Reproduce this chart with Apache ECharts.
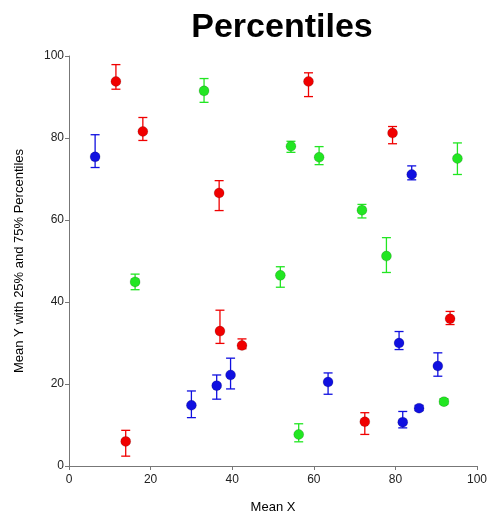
<!DOCTYPE html>
<html>
<head>
<meta charset="utf-8">
<script src="https://cdn.jsdelivr.net/npm/echarts@6/dist/echarts.min.js"></script>
<style>
  html, body { margin: 0; padding: 0; background: #fff; }
  #chart { width: 491px; height: 514px; }
</style>
</head>
<body>
<div id="chart"></div>
<script>
// Group 1 (red): mean X, mean Y, 25th and 75th percentiles of Y
const redX   = [11.5, 18.1, 36.8, 58.7, 79.3, 37.0, 42.4, 13.9, 93.4, 72.5];
const redY   = [93.8, 81.6, 66.6, 93.8, 81.2, 32.9, 29.4, 6.0, 35.9, 10.8];
const redP25 = [91.9, 79.4, 62.3, 90.1, 78.6, 29.9, 28.6, 2.4, 34.5, 7.7];
const redP75 = [97.9, 85.0, 69.6, 95.9, 82.8, 38.0, 31.0, 8.7, 37.7, 13.0];

// Group 2 (blue)
const blueX   = [6.4, 84.0, 39.6, 36.2, 30.0, 80.9, 90.4, 63.5, 85.8, 81.8];
const blueY   = [75.4, 71.1, 22.2, 19.6, 14.8, 30.0, 24.4, 20.5, 14.1, 10.7];
const blueP25 = [72.8, 69.8, 18.8, 16.3, 11.8, 28.4, 21.9, 17.5, 13.5, 9.3];
const blueP75 = [80.8, 73.2, 26.3, 22.2, 18.3, 32.8, 27.6, 22.7, 14.8, 13.3];

// Group 3 (green)
const greenX   = [33.1, 54.4, 61.3, 95.2, 71.8, 77.8, 16.2, 51.8, 91.9, 56.3];
const greenY   = [91.5, 78.0, 75.3, 75.0, 62.4, 51.2, 44.9, 46.5, 15.7, 7.7];
const greenP25 = [88.7, 76.5, 73.5, 71.1, 60.5, 47.2, 43.0, 43.6, 15.1, 5.9];
const greenP75 = [94.5, 79.2, 77.9, 78.8, 63.8, 55.7, 46.8, 48.6, 16.4, 10.3];

const xTicks = [0, 20, 40, 60, 80, 100];
const yTicks = [0, 20, 40, 60, 80, 100];

const groups = [
  { name: 'red',   color: '#f00000', x: redX,   y: redY,   lo: redP25,   hi: redP75 },
  { name: 'blue',  color: '#1010e0', x: blueX,  y: blueY,  lo: blueP25,  hi: blueP75 },
  { name: 'green', color: '#22e622', x: greenX, y: greenY, lo: greenP25, hi: greenP75 }
];

const FONT = 'Liberation Sans, Arial, sans-serif';
const series = [];

// Percentile whiskers with caps
groups.forEach(g => {
  series.push({
    type: 'custom',
    name: g.name + '-bars',
    data: g.x.map((v, i) => [v, g.lo[i], g.hi[i]]),
    encode: { x: 0, y: [1, 2] },
    z: 2,
    renderItem: function (params, api) {
      const lo = api.coord([api.value(0), api.value(1)]);
      const hi = api.coord([api.value(0), api.value(2)]);
      const half = 4.5;
      const style = { stroke: g.color, lineWidth: 1.3 };
      return {
        type: 'group',
        children: [
          { type: 'line', shape: { x1: lo[0], y1: lo[1], x2: hi[0], y2: hi[1] }, style: style },
          { type: 'line', shape: { x1: hi[0] - half, y1: hi[1], x2: hi[0] + half, y2: hi[1] }, style: style },
          { type: 'line', shape: { x1: lo[0] - half, y1: lo[1], x2: lo[0] + half, y2: lo[1] }, style: style }
        ]
      };
    }
  });
});

// Mean markers
groups.forEach(g => {
  series.push({
    type: 'scatter',
    name: g.name,
    data: g.x.map((v, i) => [v, g.y[i]]),
    symbol: 'circle',
    symbolSize: 10,
    z: 3,
    itemStyle: { color: g.color, borderColor: 'rgba(0,0,0,0.25)', borderWidth: 0.6, opacity: 1 }
  });
});

const chart = echarts.init(document.getElementById('chart'), null, { renderer: 'canvas' });
chart.setOption({
  animation: false,
  backgroundColor: '#ffffff',
  title: {
    text: 'Percentiles',
    left: 277, top: 6, textAlign: 'center',
    textStyle: { fontFamily: FONT, fontSize: 34, fontWeight: 'bold', color: '#000' }
  },
  grid: { left: 69, right: 14, top: 56, bottom: 48, containLabel: false, outerBoundsMode: 'none' },
  xAxis: {
    type: 'value', min: xTicks[0], max: xTicks[xTicks.length - 1], interval: 20,
    name: 'Mean X', nameLocation: 'middle', nameGap: 35,
    nameTextStyle: { fontFamily: FONT, fontSize: 13, color: '#000' },
    axisLine: { show: true, lineStyle: { color: '#777', width: 1 } },
    axisTick: { show: true, inside: false, length: 4, lineStyle: { color: '#777' } },
    axisLabel: { fontFamily: FONT, fontSize: 12, color: '#222', margin: 8 },
    splitLine: { show: false }
  },
  yAxis: {
    type: 'value', min: yTicks[0], max: yTicks[yTicks.length - 1], interval: 20,
    name: 'Mean Y with 25% and 75% Percentiles', nameLocation: 'middle', nameGap: 43,
    nameTextStyle: { fontFamily: FONT, fontSize: 13, color: '#000' },
    axisLine: { show: true, lineStyle: { color: '#777', width: 1 } },
    axisTick: { show: true, inside: false, length: 4, lineStyle: { color: '#777' } },
    axisLabel: { fontFamily: FONT, fontSize: 12, color: '#222', margin: 5 },
    splitLine: { show: false }
  },
  series: series
});
</script>
</body>
</html>
